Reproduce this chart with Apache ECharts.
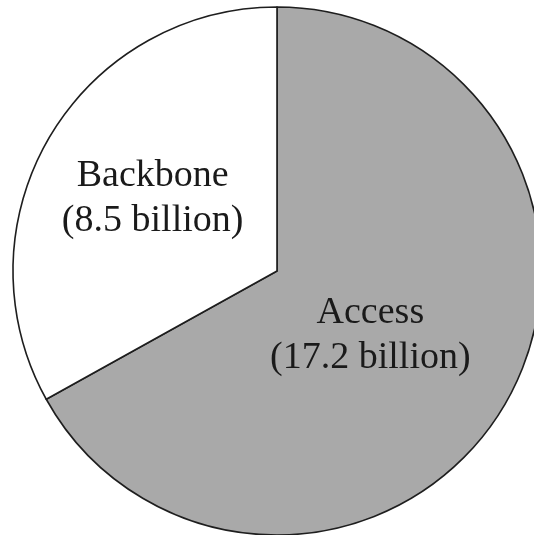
<!DOCTYPE html>
<html>
<head>
<meta charset="utf-8">
<style>
  html, body { margin: 0; padding: 0; background: #ffffff; }
  #chart { width: 534px; height: 535px; }
</style>
<script src="https://cdn.jsdelivr.net/npm/echarts@6/dist/echarts.min.js"></script>
</head>
<body>
<div id="chart"></div>
<script>
// Traffic split between network segments (billions)
const segments = ['Access', 'Backbone'];
const values = [17.2, 8.5];
const fills = ['#a9a9a9', '#ffffff'];
const labelOffsets = [[-23, -4], [-8, -4]];

const chart = echarts.init(document.getElementById('chart'), null, { renderer: 'canvas' });

chart.setOption({
  backgroundColor: '#ffffff',
  animation: false,
  series: [{
    type: 'pie',
    center: [277, 271],
    radius: 264,
    startAngle: 90,
    clockwise: true,
    silent: true,
    data: segments.map((name, i) => ({
      name: name,
      value: values[i],
      itemStyle: { color: fills[i] },
      label: { offset: labelOffsets[i] }
    })),
    itemStyle: {
      borderColor: '#1e1e1e',
      borderWidth: 1.6
    },
    label: {
      show: true,
      position: 'inside',
      formatter: p => p.name + '\n(' + p.value + ' billion)',
      fontFamily: '"Liberation Serif", "Times New Roman", serif',
      fontSize: 38,
      lineHeight: 45,
      color: '#1a1a1a',
      align: 'center'
    },
    labelLine: { show: false }
  }]
});
</script>
</body>
</html>
